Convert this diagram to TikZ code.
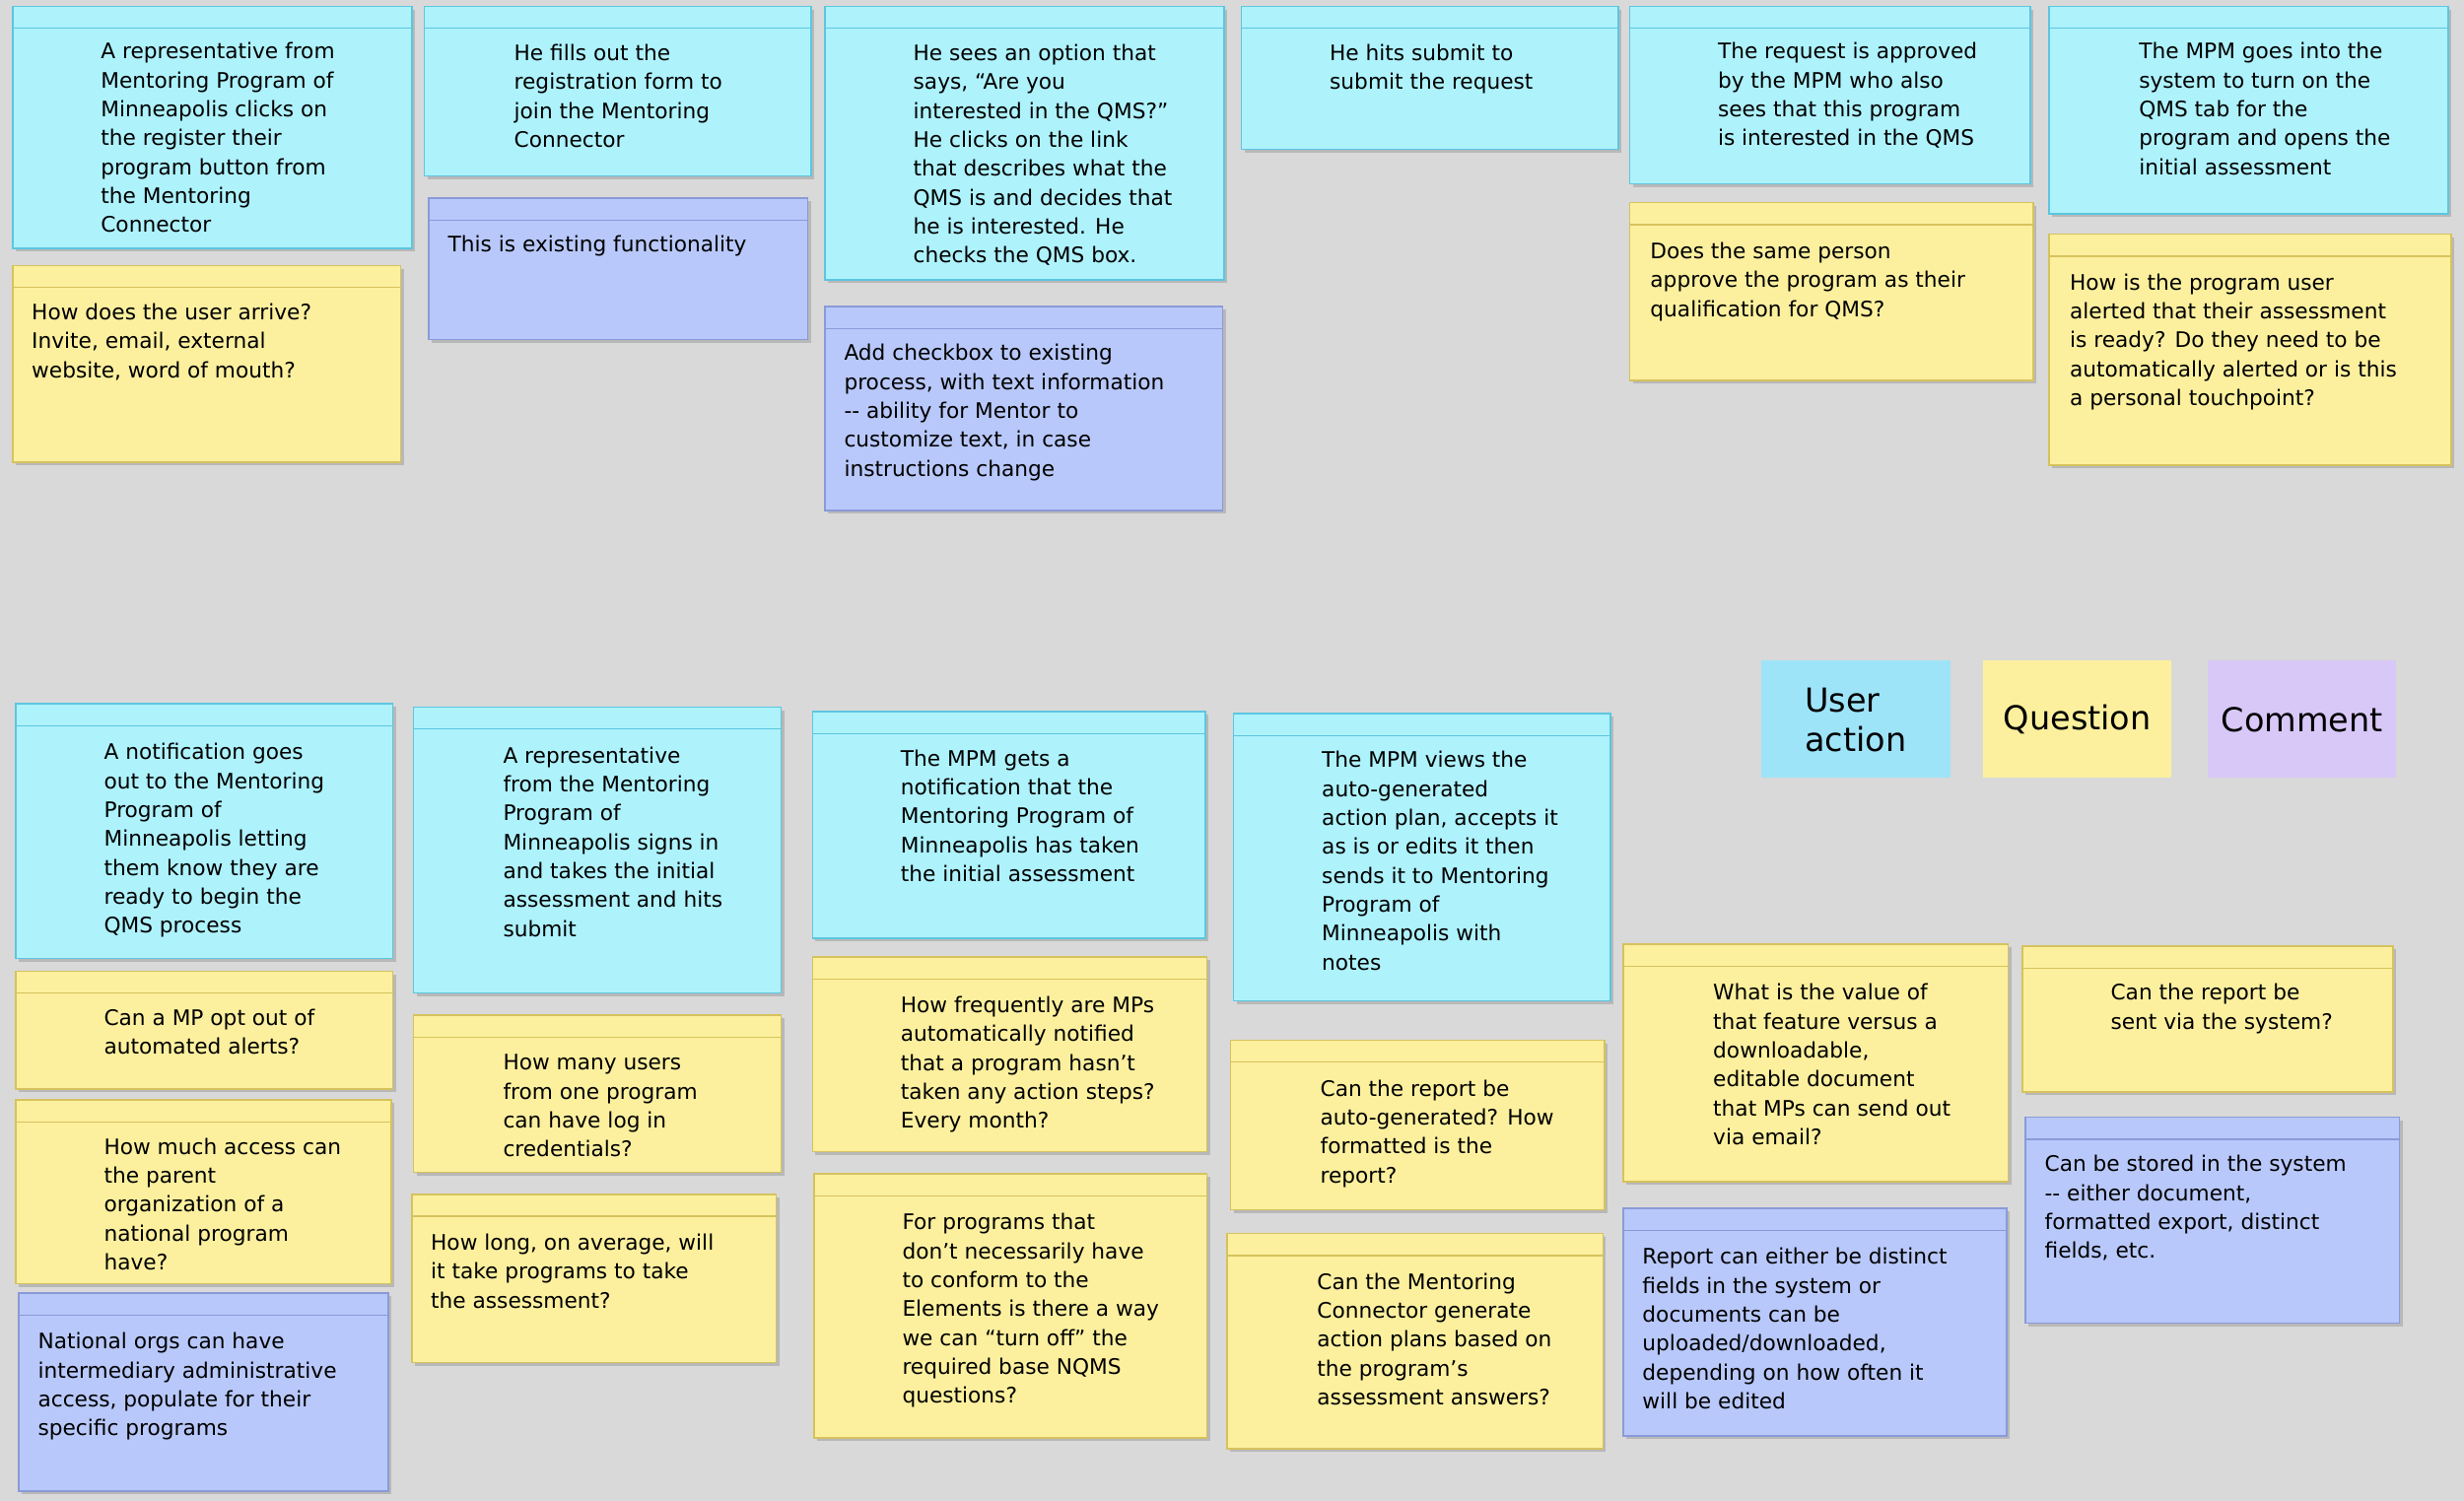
\documentclass[tikz,border=0pt]{standalone}
\usepackage{fontspec}
\setmainfont{DejaVu Sans}
\definecolor{bg}{HTML}{D9D9D9}
\definecolor{cyf}{HTML}{AEF2FC}\definecolor{cyd}{HTML}{5CC6E0}
\definecolor{yef}{HTML}{FCF09E}\definecolor{yed}{HTML}{D6C25E}
\definecolor{blf}{HTML}{B8C8FA}\definecolor{bld}{HTML}{8A9AD8}
\definecolor{puf}{HTML}{D8C8F8}\definecolor{leg}{HTML}{9EE4F8}
\newcommand\sticky[9]{%
 \fill[black,opacity=0.15] (#3+2,#4+2) rectangle (#5+2,#6+2);
 \draw[fill=#1f,draw=#1d,line width=1pt] (#3,#4) rectangle (#5,#6);
 \draw[#1d,line width=0.8pt] (#3,#4+14) -- (#5,#4+14);
 \node[txt] (#2) at (#7,#8-6) {#9};}
\begin{document}
\begin{tikzpicture}[x=1pt,y=-1pt,txt/.style={anchor=north west,inner sep=0pt,align=left,font=\fontsize{13.6}{18.4}\selectfont},
 legtxt/.style={align=left,font=\fontsize{21}{25}\selectfont}]
\useasboundingbox (0,0) rectangle (1568,955);
\fill[bg] (0,0) rectangle (1568,955);
\sticky{cy}{n1}{8}{4}{262}{158}{64}{33}{A representative from\\Mentoring Program of\\Minneapolis clicks on\\the register their\\program button from\\the Mentoring\\Connector}
\sticky{ye}{n2}{8}{169}{255}{294}{20}{199}{How does the user arrive?\\Invite, email, external\\website, word of mouth?}
\sticky{cy}{n3}{270}{4}{516}{112}{327}{34}{He fills out the\\registration form to\\join the Mentoring\\Connector}
\sticky{bl}{n4}{273}{126}{514}{216}{285}{156}{This is existing functionality}
\sticky{cy}{n5}{525}{4}{779}{178}{581}{34}{He sees an option that\\says, “Are you\\interested in the QMS?”\\He clicks on the link\\that describes what the\\QMS is and decides that\\he is interested. He\\checks the QMS box.}
\sticky{bl}{n6}{525}{195}{778}{325}{537}{225}{Add checkbox to existing\\process, with text information\\{-}{-} ability for Mentor to\\customize text, in case\\instructions change}
\sticky{cy}{n7}{790}{4}{1030}{95}{846}{34}{He hits submit to\\submit the request}
\sticky{cy}{n8}{1037}{4}{1292}{117}{1093}{33}{The request is approved\\by the MPM who also\\sees that this program\\is interested in the QMS}
\sticky{ye}{n9}{1037}{129}{1294}{242}{1050}{160}{Does the same person\\approve the program as their\\qualification for QMS?}
\sticky{cy}{n10}{1304}{4}{1558}{136}{1361}{33}{The MPM goes into the\\system to turn on the\\QMS tab for the\\program and opens the\\initial assessment}
\sticky{ye}{n11}{1304}{149}{1560}{296}{1317}{180}{How is the program user\\alerted that their assessment\\is ready? Do they need to be\\automatically alerted or is this\\a personal touchpoint?}
\sticky{cy}{n12}{10}{448}{250}{610}{66}{479}{A notification goes\\out to the Mentoring\\Program of\\Minneapolis letting\\them know they are\\ready to begin the\\QMS process}
\sticky{ye}{n13}{10}{618}{250}{693}{66}{648}{Can a MP opt out of\\automated alerts?}
\sticky{ye}{n14}{10}{700}{249}{817}{66}{730}{How much access can\\the parent\\organization of a\\national program\\have?}
\sticky{bl}{n15}{12}{823}{247}{949}{24}{854}{National orgs can have\\intermediary administrative\\access, populate for their\\specific programs}
\sticky{cy}{n16}{263}{450}{497}{632}{320}{481}{A representative\\from the Mentoring\\Program of\\Minneapolis signs in\\and takes the initial\\assessment and hits\\submit}
\sticky{ye}{n17}{263}{646}{497}{746}{320}{677}{How many users\\from one program\\can have log in\\credentials?}
\sticky{ye}{n18}{262}{760}{494}{867}{274}{791}{How long, on average, will\\it take programs to take\\the assessment?}
\sticky{cy}{n19}{517}{453}{767}{597}{573}{483}{The MPM gets a\\notification that the\\Mentoring Program of\\Minneapolis has taken\\the initial assessment}
\sticky{ye}{n20}{517}{609}{768}{733}{573}{640}{How frequently are MPs\\automatically notified\\that a program hasn’t\\taken any action steps?\\Every month?}
\sticky{ye}{n21}{518}{747}{768}{915}{574}{778}{For programs that\\don’t necessarily have\\to conform to the\\Elements is there a way\\we can “turn off” the\\required base NQMS\\questions?}
\sticky{cy}{n22}{785}{454}{1025}{637}{841}{484}{The MPM views the\\auto-generated\\action plan, accepts it\\as is or edits it then\\sends it to Mentoring\\Program of\\Minneapolis with\\notes}
\sticky{ye}{n23}{783}{662}{1021}{770}{840}{693}{Can the report be\\auto-generated? How\\formatted is the\\report?}
\sticky{ye}{n24}{781}{785}{1020}{922}{838}{816}{Can the Mentoring\\Connector generate\\action plans based on\\the program’s\\assessment answers?}
\sticky{ye}{n25}{1033}{601}{1278}{752}{1090}{632}{What is the value of\\that feature versus a\\downloadable,\\editable document\\that MPs can send out\\via email?}
\sticky{bl}{n26}{1033}{769}{1277}{914}{1045}{800}{Report can either be distinct\\fields in the system or\\documents can be\\uploaded/downloaded,\\depending on how often it\\will be edited}
\sticky{ye}{n27}{1287}{602}{1523}{695}{1343}{632}{Can the report be\\sent via the system?}
\sticky{bl}{n28}{1289}{711}{1527}{842}{1301}{741}{Can be stored in the system\\{-}{-} either document,\\formatted export, distinct\\fields, etc.}
\fill[leg] (1121,420) rectangle (1241,495);
\node[legtxt,anchor=west] (l1) at (1145,458) {User\\action};
\fill[yef] (1262,420) rectangle (1382,495);
\node[legtxt] (l2) at (1322,458) {Question};
\fill[puf] (1405,420) rectangle (1525,495);
\node[legtxt] (l3) at (1465,458) {Comment};
\end{tikzpicture}
\end{document}
